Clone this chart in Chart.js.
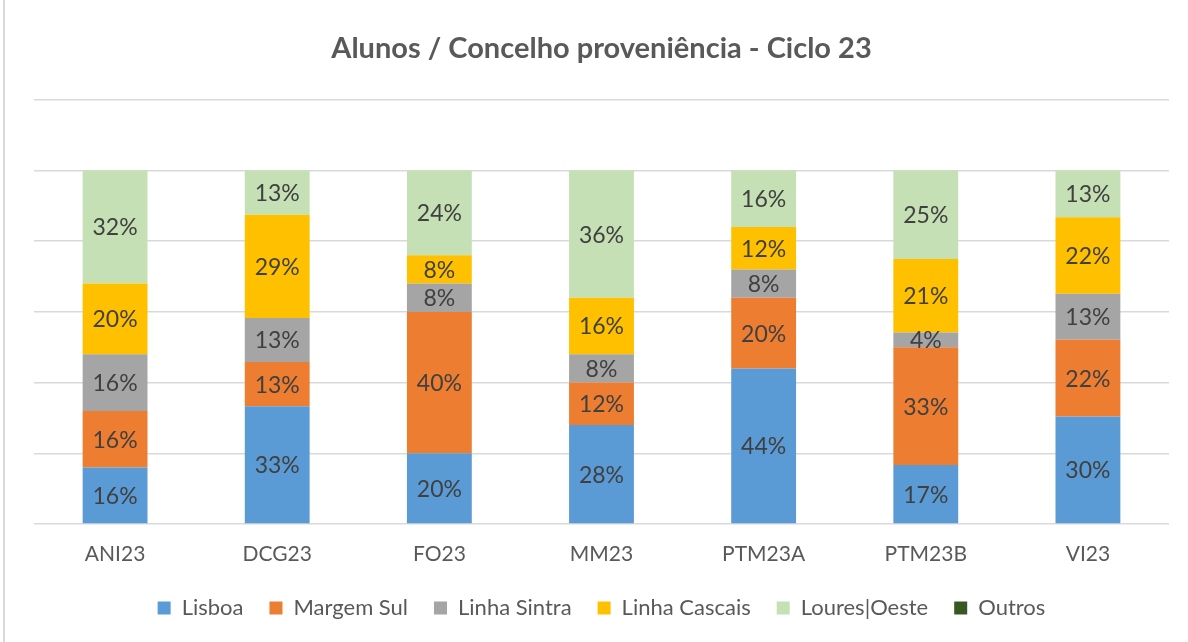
<!DOCTYPE html>
<html>
<head>
<meta charset="utf-8">
<script src="https://cdn.jsdelivr.net/npm/chart.js@4/dist/chart.umd.min.js"></script>
<style>
  html, body { margin: 0; padding: 0; background: #fff; }
  #wrap { width: 1188px; height: 642px; position: relative; }
</style>
</head>
<body>
<div id="wrap"><canvas id="c" width="1188" height="642"></canvas></div>
<script>
const categories = ['ANI23', 'DCG23', 'FO23', 'MM23', 'PTM23A', 'PTM23B', 'VI23'];
const lisboa       = [16, 33.3, 20, 28, 44, 16.7, 30.4];
const margemSul    = [16, 12.5, 40, 12, 20, 33.3, 21.7];
const linhaSintra  = [16, 12.5,  8,  8,  8,  4.2, 13.0];
const linhaCascais = [20, 29.2,  8, 16, 12, 20.8, 21.7];
const louresOeste  = [32, 12.5, 24, 36, 16, 25.0, 13.2];
const outros       = [0, 0, 0, 0, 0, 0, 0];
const yTicks = [0, 20, 40, 60, 80, 100, 120];

const FONT = 'Lato, "Open Sans", sans-serif';

const bgPlugin = {
  id: 'bg',
  beforeDraw(chart) {
    const ctx = chart.ctx;
    ctx.save();
    ctx.fillStyle = '#ffffff';
    ctx.fillRect(0, 0, chart.width, chart.height);
    ctx.fillStyle = '#d9d9d9';
    ctx.fillRect(3, 0, 2, chart.height);
    ctx.restore();
  }
};

const labelPlugin = {
  id: 'barLabels',
  afterDatasetsDraw(chart) {
    const ctx = chart.ctx;
    ctx.save();
    ctx.font = '23px ' + FONT;
    ctx.fillStyle = '#404040';
    ctx.textAlign = 'center';
    ctx.textBaseline = 'middle';
    chart.data.datasets.forEach((ds, i) => {
      const meta = chart.getDatasetMeta(i);
      if (meta.hidden) return;
      meta.data.forEach((bar, j) => {
        const v = ds.data[j];
        if (!v) return;
        const y = (bar.y + bar.base) / 2;
        ctx.fillText(Math.round(v) + '%', bar.x, y + 1);
      });
    });
    ctx.restore();
  }
};

const mk = (label, data, color) => ({
  label, data, backgroundColor: color, borderWidth: 0,
  barPercentage: 0.4, categoryPercentage: 1.0
});

new Chart(document.getElementById('c'), {
  type: 'bar',
  data: {
    labels: categories,
    datasets: [
      mk('Lisboa', lisboa, '#5B9BD5'),
      mk('Margem Sul', margemSul, '#ED7D31'),
      mk('Linha Sintra', linhaSintra, '#A5A5A5'),
      mk('Linha Cascais', linhaCascais, '#FFC000'),
      mk('Loures|Oeste', louresOeste, '#C5E0B4'),
      mk('Outros', outros, '#385723')
    ]
  },
  plugins: [bgPlugin, labelPlugin],
  options: {
    responsive: false,
    animation: false,
    devicePixelRatio: 1,
    layout: { padding: { left: 34, right: 19, top: 0, bottom: 13 } },
    plugins: {
      title: {
        display: true,
        text: 'Alunos / Concelho proveniência - Ciclo 23',
        color: '#595959',
        font: { family: FONT, size: 29, weight: 'bold' },
        padding: { top: 31, bottom: 34 }
      },
      legend: {
        position: 'bottom',
        labels: {
          color: '#595959',
          font: { family: FONT, size: 22 },
          boxWidth: 13, boxHeight: 13,
          padding: 26
        }
      },
      tooltip: { enabled: false }
    },
    scales: {
      x: {
        stacked: true,
        grid: { display: false, drawTicks: false },
        border: { display: false },
        ticks: { color: '#595959', font: { family: FONT, size: 21 }, padding: 18 },
        afterFit(scale) { scale.height = 47; }
      },
      y: {
        stacked: true,
        min: 0, max: 120,
        afterBuildTicks(scale) { scale.ticks = yTicks.map(v => ({ value: v })); },
        grid: { color: '#d9d9d9', lineWidth: 1.5, drawTicks: false },
        border: { display: false },
        ticks: { display: false }
      }
    }
  }
});
</script>
</body>
</html>
